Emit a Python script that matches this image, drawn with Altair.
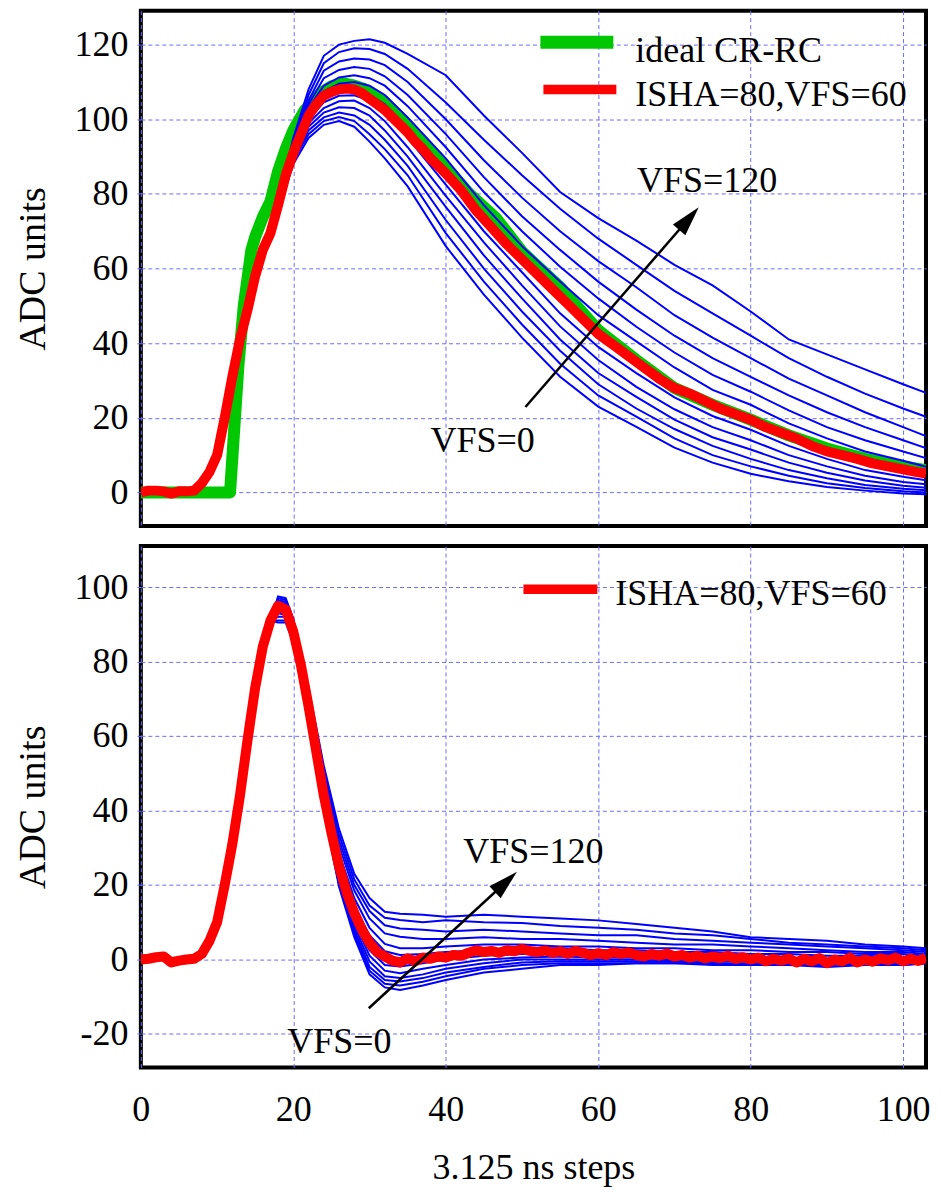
import altair as alt
import pandas as pd

# ---------------- data ----------------
VFS_LEVELS = [0, 10, 20, 30, 40, 50, 60, 70, 80, 90, 100, 110, 120]

TOP_RISE_X = list(range(0, 18))
TOP_RISE_Y = [0, 0.5, 0.5, 0.3, -0.3, 0.3, 0.3, 0.5, 2.5, 5.5,
              10, 20, 31, 41, 49, 58, 65, 69.5]

TOP_MID_X = [18, 20, 22, 24, 26, 28, 30, 32]
TOP_BLUE_MID = [
    [75, 88, 95, 98.5, 99.5, 98, 94, 89.5],
    [75, 89, 96, 99.5, 100.6, 99.5, 96, 92],
    [75.5, 89.5, 97, 100.5, 101.8, 101, 98.5, 94.5],
    [75.5, 90, 98, 101.8, 103.2, 103, 101, 97],
    [76, 90.5, 99, 103, 104.8, 105, 103, 99.5],
    [76, 91, 100, 104.5, 106.3, 106.4, 105, 102],
    [76.5, 91.5, 101, 106, 107.8, 108, 106.5, 104],
    [76.5, 92, 102, 107.5, 109.5, 110, 109, 106.5],
    [76.5, 92.5, 103, 109, 111.2, 111.8, 111, 109],
    [77, 93, 104, 111, 113.2, 114, 113.5, 111.5],
    [77, 93.5, 105, 113, 115.5, 116.3, 116, 114.5],
    [77.5, 94, 106.5, 115, 118, 119, 118.8, 117.5],
    [78, 95, 108, 117, 120, 121, 121.4, 120.5],
]
TOP_TAIL_X = [35, 40, 45, 50, 55, 60, 65, 70, 75, 80, 85, 90, 95, 100, 103]
TOP_BLUE_TAIL = [
    [82, 66, 53, 41.5, 31, 23, 17.6, 12, 8, 5, 3, 1.5, 0.5, -0.3, -0.5],
    [85, 69.5, 56.5, 45, 34.5, 26, 20.3, 14.5, 10, 7, 4.5, 2.5, 1.2, 0.3, 0],
    [87.5, 73, 60, 48.5, 38, 29, 22.5, 17, 12.5, 9, 6, 3.8, 2, 1, 0.6],
    [90, 76.5, 63.5, 52, 41, 32, 25.6, 19.5, 14.8, 11.5, 8, 5.3, 3.2, 1.8, 1.3],
    [92.5, 79.5, 67, 55.5, 44.5, 35.5, 28.3, 22.3, 17.5, 14, 10, 7, 4.5, 2.8, 2.2],
    [95, 82.5, 70, 59, 48, 39, 32, 25.5, 20.5, 16.8, 12.5, 9, 6, 4.2, 3.3],
    [97.5, 86, 73.5, 62.5, 52, 42, 35, 28.5, 23.5, 19.5, 15, 11.2, 8, 6, 5],
    [100.5, 89.5, 77, 66, 56.5, 47.5, 40.5, 33.5, 27.5, 23.5, 18.5, 14.5, 11, 8.5, 6.9],
    [103.5, 92.5, 80.5, 70, 60.5, 52, 44.4, 37.5, 31.5, 27, 22, 17.5, 14, 11, 9.2],
    [106.5, 96, 84.5, 74, 65, 56.5, 49, 42, 36, 31, 26, 21.5, 17.5, 14, 11.9],
    [110, 100, 89, 79, 70, 62, 55, 47.5, 41.5, 36, 30.5, 26, 21.5, 17.5, 15.1],
    [113.5, 104.5, 94.5, 85, 76, 68, 61, 54, 48, 42, 36, 31, 26.5, 22.5, 20.3],
    [117.5, 111.8, 101, 91, 80.5, 73.5, 67.5, 61, 55.5, 48.5, 41, 37, 33, 29, 26.7],
]

RED_TOP_X = list(range(0, 41)) + list(range(42, 103, 2)) + [103]
RED_TOP_Y = [0, 0.5, 0.5, 0.3, -0.3, 0.3, 0.3, 0.5, 2.5, 5.5,
             10, 20, 31, 41, 49, 58, 65, 69.5, 77, 85,
             91, 96, 101, 104, 106.3, 107.3, 108, 108.2, 108, 107,
             105.5, 104, 102.5, 100.5, 98.5, 96.5, 94, 92, 89.5, 87.5, 85.5,
             81, 75.5, 71, 66.5, 62.5, 58.5, 54.5, 50.5, 46.5, 42.5,
             39.5, 36.5, 33.5, 30.5, 28, 26.5, 24.5, 22.5, 21, 19.5,
             17.5, 16, 14.5, 12.5, 11, 10, 9, 7.8, 7, 6.2, 5.4,
             5.1]

GREEN_X = [0, 11.7, 12.8, 13.5, 14.5, 15, 16, 17, 18, 19,
           20, 21.5, 23.6, 25, 26.6, 28, 29.2, 31.8, 34.4, 38.8,
           43.1, 46.6, 50, 55, 60, 65, 70, 75, 80, 85,
           90, 95, 100, 103]
GREEN_Y = [0, 0, 34, 50, 65, 68.5, 73.8, 78, 86, 92,
           97, 102.4, 107, 108.8, 109.6, 109, 108.2, 105, 99.7, 90,
           80, 73.5, 64.5, 55, 43.5, 35.5, 28, 23.5, 19.5, 15.3,
           11.8, 9, 7, 6]

BOT_RISE_X = list(range(0, 18))
BOT_RISE_Y = [0, 0.2, 0.6, 0.8, -0.8, -0.3, 0, 0.2, 1.5, 5,
              10, 20, 31, 44, 59, 73, 84, 91]
BOT_MID_X = [18, 19, 20, 22, 24, 26, 28, 30, 32]
BOT_BLUE_MID = [
    [90.5, 90.5, 85, 64.5, 40, 19.5, 6, -4, -7.5],
    [91, 91, 85.5, 65, 40.5, 20, 7, -3, -6.5],
    [92, 92, 86, 65.5, 41, 20.5, 8, -2, -5.5],
    [93, 92.5, 86.5, 66, 41.5, 21.5, 9, -0.5, -4.5],
    [94, 93, 87, 66.5, 42, 22.5, 10, 1, -3],
    [94.5, 93.5, 87.5, 67, 43, 23.5, 11, 2.5, -1.5],
    [95, 94, 88, 68, 44, 25, 12.5, 4.5, 0.8],
    [95, 94.5, 89, 69, 46, 27, 14.5, 6.5, 2.2],
    [95.5, 95, 89.5, 70, 47.5, 28.5, 16.5, 8.5, 4.2],
    [96, 95.5, 90, 71, 49, 30.5, 18.5, 11, 7],
    [96.5, 96, 90.5, 72, 50, 32, 20, 13, 9.2],
    [97, 96.5, 91, 72.5, 51, 33.5, 21.5, 14.5, 11.2],
    [97.5, 97, 91.5, 73, 52, 35, 23, 16.5, 12.8],
]
BOT_TAIL_X = [34, 37, 40, 45, 50, 55, 60, 65, 70, 75, 80, 85, 90, 95, 100, 103]
BOT_BLUE_TAIL = [
    [-8.2, -7, -5.5, -3.5, -2.5, -1.5, -1.5, -1, -1, -1.5, -1.5, -1.5, -2, -1.5, -1.5, -1],
    [-7, -6, -4.5, -2.5, -1.5, -1, -1, -1, -1, -1, -1.5, -1.5, -1.5, -1, -1.5, -1],
    [-5.9, -5, -3.5, -2, -0.8, -0.5, -0.5, -0.5, -0.5, -1, -1, -1, -1.5, -1, -1, -1],
    [-5, -4, -2.5, -1, 0, 0, 0, 0, -0.5, -0.5, -0.5, -1, -1, -1, -1, -0.5],
    [-3.7, -2.5, -1.5, 0, 0.5, 0.8, 0.5, 0.5, 0, 0, -0.5, -0.5, -0.5, -1, -0.5, -0.5],
    [-1.9, -1, 0, 1, 1.5, 1.5, 1, 1, 0.5, 0.5, 0, 0, -0.5, -0.5, -0.5, 0],
    [-0.5, 0.3, 0.5, 2, 2.5, 2, 1.5, 1.8, 1, 0.8, 0.3, 0.3, -0.3, 0, -0.3, 0.3],
    [1.2, 1.5, 2, 2.5, 3, 3, 2.5, 2.5, 2, 2, 1.5, 1.5, 1, 1, 0.5, 0.5],
    [3, 3, 3.5, 4, 4, 3.5, 3.5, 3, 3, 2.5, 2.5, 2, 2, 1.5, 1.5, 1],
    [6.1, 5.5, 5.5, 6, 5.5, 5.5, 5, 4.5, 4, 4, 3.5, 3, 2.5, 2, 2, 1.5],
    [8.3, 8, 7.5, 8, 7.5, 7, 6.5, 6.5, 5.5, 5, 4.5, 4, 3.5, 3, 2.5, 2],
    [10.6, 10, 10.5, 10, 9.8, 9, 8.5, 8, 7, 6.5, 5.5, 4.5, 4, 3.5, 3, 2.5],
    [12.3, 12, 11.5, 12, 11.5, 11, 10.5, 9.5, 8.5, 7.5, 6, 5.5, 5, 4, 3.5, 3],
]

RED_BOT_X = list(range(0, 104))
RED_BOT_Y = [0, 0.2, 0.6, 0.8, -0.8, -0.3, 0, 0.2, 1.5, 5,
             10, 20, 31, 44, 59, 73, 84, 91,
             95, 94, 88, 79, 68, 56, 44, 34, 25, 18,
             12.5, 8, 4.5, 2, 0.8, -0.3, -0.8, 0.3, -0.5, 0.5,
             0.2, 0.8, 0.5, 1.2, 1, 1.8, 2.5, 2, 2.3, 1.8,
             2.5, 2.2, 2.8, 2.3, 2, 2.4, 1.8, 2.2, 1.5, 2.3,
             1.8, 1.2, 1.7, 1.2, 2, 1.5, 1.9, 1.2, 0.8, 1.5,
             1, 1.6, 0.8, 1.2, 0.5, 1, 0.3, 0.8, 0.4, 1,
             0.2, 0.6, 0, 0.5, -0.5, 0.2, -0.3, 0.3, -0.8, 0.2,
             -0.5, 0.4, -1, 0, -0.5, 0.5, -0.8, 0, -0.6, 0.3,
             -0.2, 0.5, -0.5, 0.2, -0.4, 0.5]

# ---------------- tables ----------------
def blue_table(rise_x, rise_y, mid_x, mids, tail_x, tails):
    rows = []
    for k, vfs in enumerate(VFS_LEVELS):
        xs = rise_x + mid_x + tail_x
        ys = rise_y + mids[k] + tails[k]
        for a, b in zip(xs, ys):
            rows.append({"x": a, "y": b, "curve": f"VFS={vfs}"})
    return pd.DataFrame(rows)

blue_top_df = blue_table(TOP_RISE_X, TOP_RISE_Y, TOP_MID_X, TOP_BLUE_MID, TOP_TAIL_X, TOP_BLUE_TAIL)
blue_bot_df = blue_table(BOT_RISE_X, BOT_RISE_Y, BOT_MID_X, BOT_BLUE_MID, BOT_TAIL_X, BOT_BLUE_TAIL)
red_top_df = pd.DataFrame({"x": RED_TOP_X, "y": RED_TOP_Y})
green_df = pd.DataFrame({"x": GREEN_X, "y": GREEN_Y})
red_bot_df = pd.DataFrame({"x": RED_BOT_X, "y": RED_BOT_Y})

# ---------------- styling ----------------
FONT = "Liberation Serif"
GRID = "#6b6bff"
BLUE = "#0000ff"
RED = "#ff0000"
GREEN = "#00c800"
W = 786
H_TOP = 516
H_BOT = 522
ARROW = "M0,-1L0.55,1L-0.55,1Z"

common_axis = dict(gridColor=GRID, gridDash=[4, 3], gridWidth=1, gridOpacity=1,
                   labelFont=FONT, labelFontSize=36, labelColor="black",
                   titleFont=FONT, titleFontWeight="normal",
                   titleColor="black", domain=False)

X_VALUES = [0, 20, 40, 60, 80, 100]
x_scale = alt.Scale(domain=[0, 103], nice=False, zero=False)

X_TOP = alt.X("x:Q", scale=x_scale, title=None,
              axis=alt.Axis(values=X_VALUES, grid=True, labels=False, ticks=False,
                            titleFontSize=36, **common_axis))
X_BOT = alt.X("x:Q", scale=x_scale, title="3.125 ns steps",
              axis=alt.Axis(values=X_VALUES, grid=True, labels=True, ticks=False,
                            labelFlush=False, labelPadding=25, titlePadding=23,
                            titleFontSize=36, **common_axis))

def y_enc(domain, values):
    return alt.Y("y:Q", scale=alt.Scale(domain=domain, nice=False, zero=False), title="ADC units",
                 axis=alt.Axis(values=values, grid=True, ticks=True, tickSize=6, tickColor=GRID,
                               tickDash=[4, 3], tickWidth=1, labelPadding=7, titlePadding=21,
                               titleFontSize=38, labelExpr="'' + datum.value", **common_axis))

Y_TOP = y_enc([-9.0, 129.1], [0, 20, 40, 60, 80, 100, 120])
Y_BOT = y_enc([-29.0, 111], [-20, 0, 20, 40, 60, 80, 100])

def text_layer(df, X, Y):
    return alt.Chart(df).mark_text(align="left", baseline="alphabetic", font=FONT,
                                   fontSize=36, color="black").encode(x=X, y=Y, text="t:N")

def arrow_layers(x0, y0, x1, y1, ang, X, Y):
    line = alt.Chart(pd.DataFrame({"x": [x0], "y": [y0], "x2": [x1], "y2": [y1]})).mark_rule(
        strokeWidth=2.5, color="black").encode(x=X, y=Y, x2="x2:Q", y2="y2:Q")
    head = alt.Chart(pd.DataFrame({"x": [x1], "y": [y1]})).mark_point(
        shape=ARROW, size=900, filled=True, color="black", opacity=1, strokeWidth=0,
        angle=ang).encode(x=X, y=Y)
    return [line, head]

def legend_swatch(x0, x1, y, color, width):
    return alt.Chart().mark_rule(color=color, strokeWidth=width).encode(
        x=alt.value(x0), x2=alt.value(x1), y=alt.value(y))

def legend_label(x, y, label):
    return alt.Chart().mark_text(align="left", baseline="alphabetic", font=FONT, fontSize=36,
                                 color="black", text=label).encode(x=alt.value(x), y=alt.value(y))

top_layers = [
    alt.Chart(green_df).mark_line(strokeWidth=12, color=GREEN, strokeJoin="round", clip=True).encode(x=X_TOP, y=Y_TOP),
    alt.Chart(blue_top_df).mark_line(strokeWidth=2, color=BLUE, clip=True).encode(x=X_TOP, y=Y_TOP, detail="curve:N"),
    alt.Chart(red_top_df).mark_line(strokeWidth=10, color=RED, strokeJoin="round", clip=True).encode(x=X_TOP, y=Y_TOP),
    text_layer(pd.DataFrame({"x": [65.1, 38.0], "y": [80.5, 10.9], "t": ["VFS=120", "VFS=0"]}), X_TOP, Y_TOP),
] + arrow_layers(50.45, 22.9, 71.9, 73.4, 41, X_TOP, Y_TOP) + [
    legend_swatch(400, 473, 31.7, GREEN, 13),
    legend_swatch(403, 476, 79, RED, 9.5),
    legend_label(495, 51.7, "ideal CR-RC"),
    legend_label(495, 95, "ISHA=80,VFS=60"),
]
top = alt.layer(*top_layers).properties(width=W, height=H_TOP)

bot_layers = [
    alt.Chart(blue_bot_df).mark_line(strokeWidth=2, color=BLUE, clip=True).encode(x=X_BOT, y=Y_BOT, detail="curve:N"),
    alt.Chart(red_bot_df).mark_line(strokeWidth=10, color=RED, strokeJoin="round", clip=True).encode(x=X_BOT, y=Y_BOT),
    text_layer(pd.DataFrame({"x": [42.3, 19.2], "y": [25.8, -25.2], "t": ["VFS=120", "VFS=0"]}), X_BOT, Y_BOT),
] + arrow_layers(29.9, -13.1, 47.9, 20.8, 47, X_BOT, Y_BOT) + [
    legend_swatch(383, 457, 43.2, RED, 9.5),
    legend_label(475, 59.4, "ISHA=80,VFS=60"),
]
bot = alt.layer(*bot_layers).properties(width=W, height=H_BOT)

chart = alt.vconcat(top, bot, spacing=16).configure_view(
    stroke="black", strokeWidth=4
).configure_axis(
    labelFont=FONT, titleFont=FONT
).properties(
    padding={"left": 5, "top": 0, "right": 0, "bottom": 0},
    background="white",
)

chart.save("out.html", embed_options={"renderer": "svg", "actions": False})
